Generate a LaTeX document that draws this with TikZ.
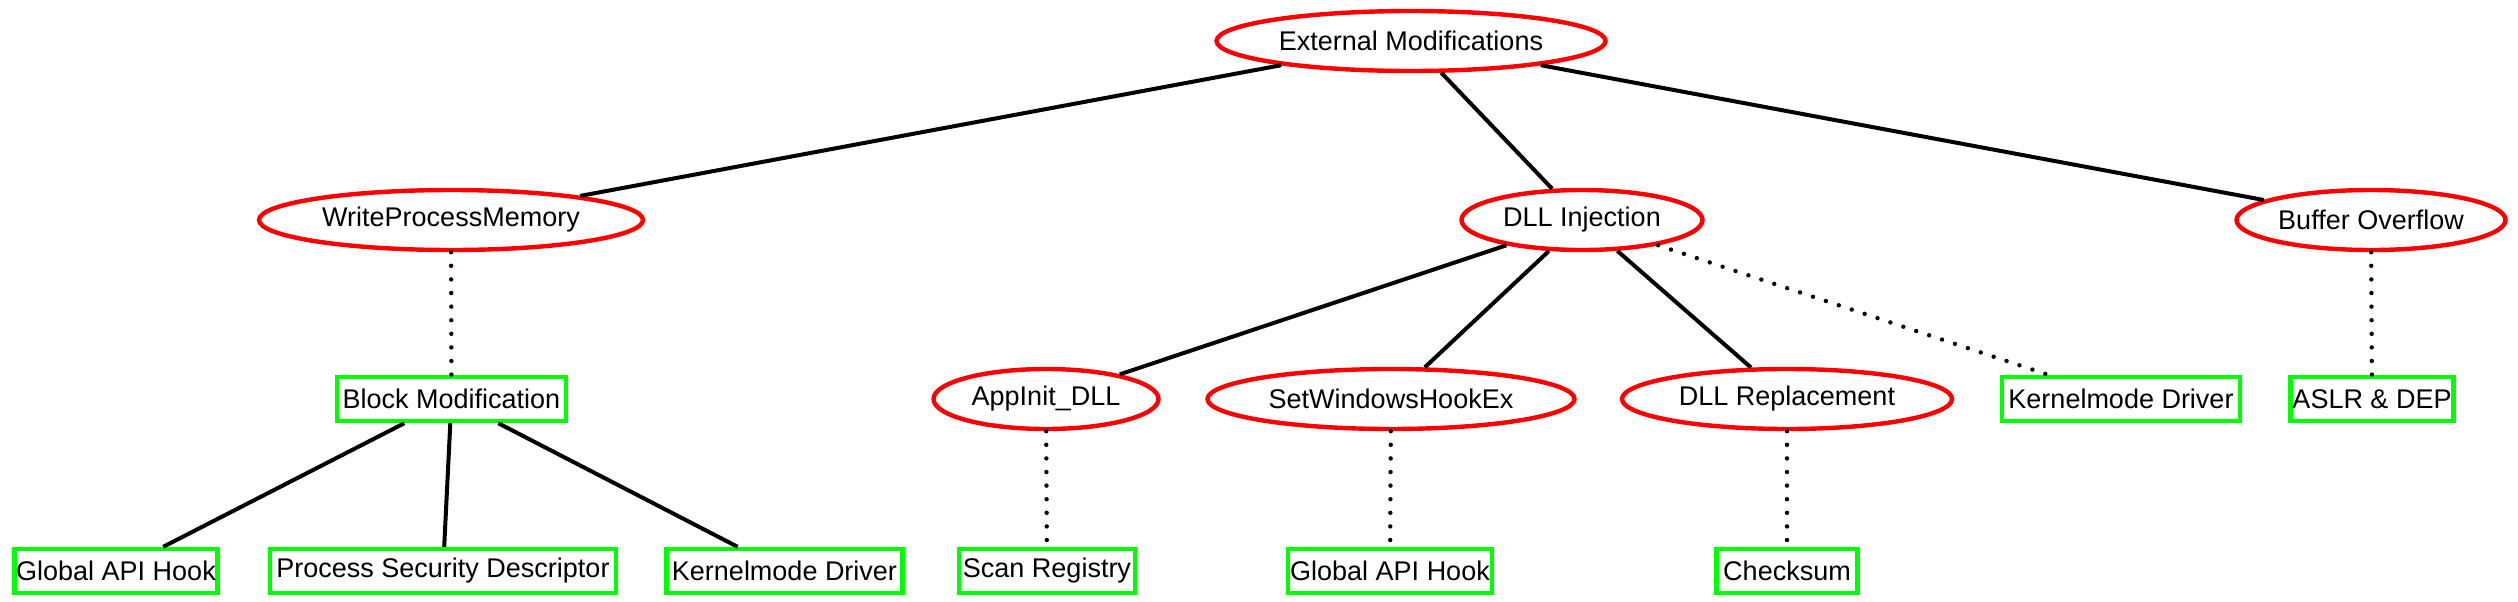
\documentclass[tikz,border=0pt]{standalone}
\usepackage{fontspec}
\setmainfont{Liberation Sans}
\usepackage{tikz}
\usetikzlibrary{shapes.geometric}

\begin{document}
\begin{tikzpicture}[x=0.5pt, y=-0.5pt,
	every node/.style={font=\fontsize{13.5}{16}\selectfont, inner sep=0pt},
	attack/.style={ellipse, draw=red, line width=2.2pt, minimum height=30pt},
	defense/.style={rectangle, draw=green, line width=2.2pt, minimum height=22pt},
	solidlink/.style={line width=2pt},
	dotlink/.style={line width=2.2pt, line cap=round, dash pattern=on 0pt off 6.8pt}]
	\useasboundingbox (0,0) rectangle (2518,601);
	% attacks
	\node[attack, minimum width=194.5pt] (ext) at (1411,41) {External Modifications};
	\node[attack, minimum width=192pt] (wpm) at (451,220) {WriteProcessMemory};
	\node[attack, minimum width=120.5pt] (dllinj) at (1582,220) {DLL Injection};
	\node[attack, minimum width=134.5pt] (bof) at (2371,220) {Buffer Overflow};
	\node[attack, minimum width=112.5pt] (appinit) at (1046,399) {AppInit\_DLL};
	\node[attack, minimum width=183.5pt] (setwhk) at (1391,399) {SetWindowsHookEx};
	\node[attack, minimum width=165pt] (dllrep) at (1787,399) {DLL Replacement};
	% defenses
	\node[defense, minimum width=114.5pt] (blockmod) at (451.5,399) {Block Modification};
	\node[defense, minimum width=119pt] (kmd) at (2121,399) {Kernelmode Driver};
	\node[defense, minimum width=81.5pt] (aslr) at (2372,399) {ASLR \& DEP};
	\node[defense, minimum width=101.5pt] (gah) at (116,571) {Global API Hook};
	\node[defense, minimum width=173pt] (psd) at (443,571) {Process Security Descriptor};
	\node[defense, minimum width=118pt] (kmdlow) at (784.5,571) {Kernelmode Driver};
	\node[defense, minimum width=88pt] (scanreg) at (1047,571) {Scan Registry};
	\node[defense, minimum width=102pt] (gahtwo) at (1390,571) {Global API Hook};
	\node[defense, minimum width=70.5pt] (checksum) at (1787,571) {Checksum};
	% links
	\draw[solidlink] (ext) -- (wpm);
	\draw[solidlink] (ext) -- (dllinj);
	\draw[solidlink] (ext) -- (bof);
	\draw[solidlink] (dllinj) -- (appinit);
	\draw[solidlink] (dllinj) -- (setwhk);
	\draw[solidlink] (dllinj) -- (dllrep);
	\draw[solidlink] (blockmod) -- (gah);
	\draw[solidlink] (blockmod) -- (psd);
	\draw[solidlink] (blockmod) -- (kmdlow);
	\draw[dotlink] (dllinj) -- (kmd);
	\draw[dotlink] (wpm) -- (blockmod);
	\draw[dotlink] (bof) -- (aslr);
	\draw[dotlink] (appinit) -- (scanreg);
	\draw[dotlink] (setwhk) -- (gahtwo);
	\draw[dotlink] (dllrep) -- (checksum);
\end{tikzpicture}
\end{document}
